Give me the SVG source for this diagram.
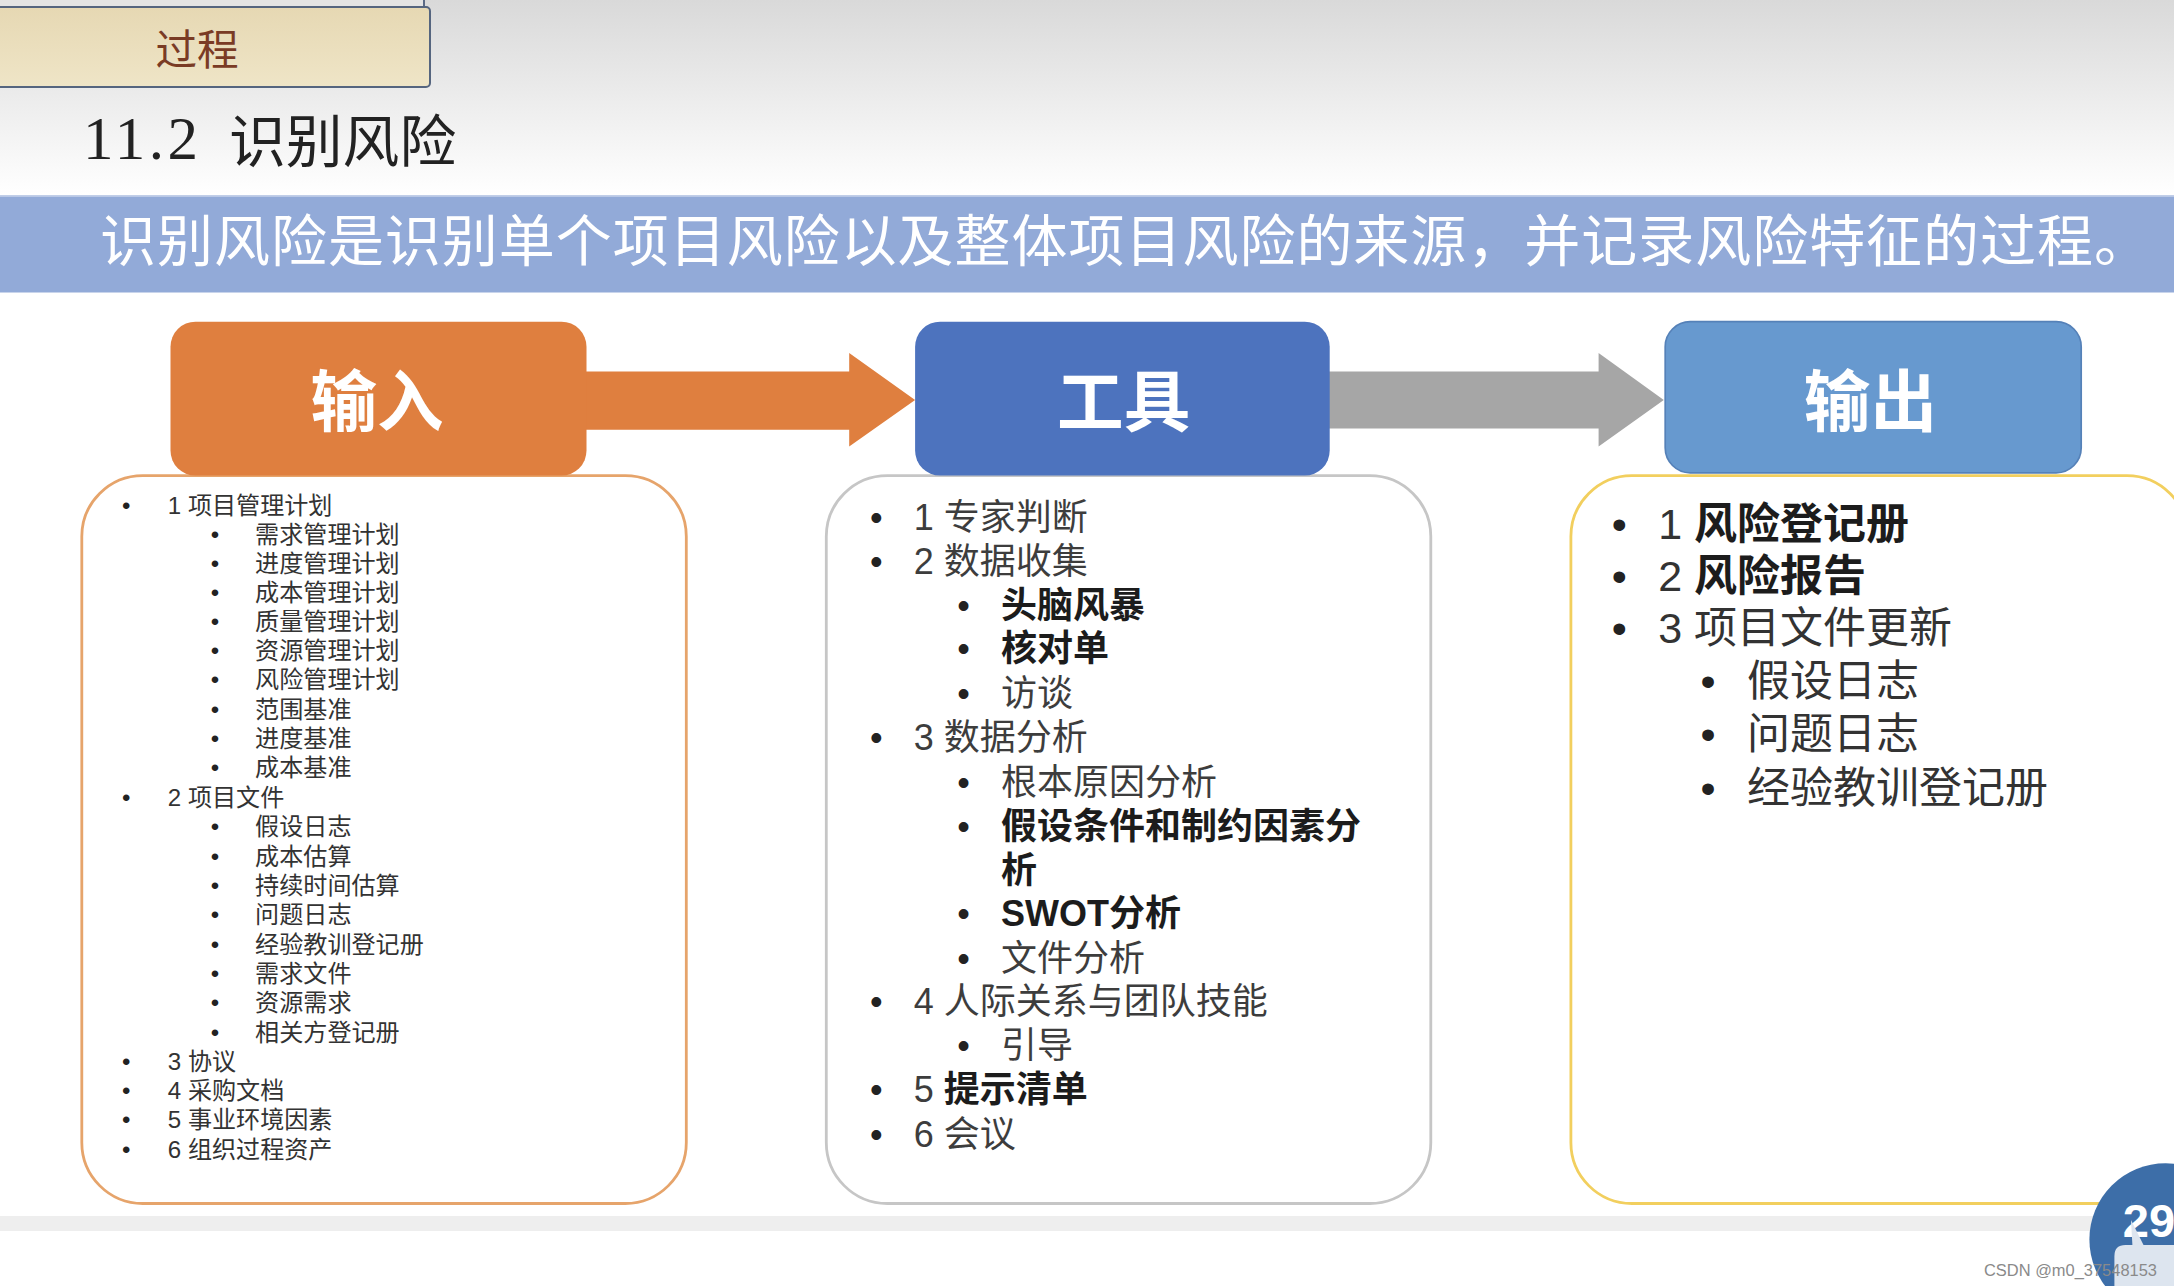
<svg xmlns="http://www.w3.org/2000/svg" width="2174" height="1286" viewBox="0 0 2174 1286">
<defs>
  <linearGradient id="bg" x1="0" y1="0" x2="0" y2="1">
    <stop offset="0" stop-color="#d9d9d9"/>
    <stop offset="1" stop-color="#ffffff"/>
  </linearGradient>
  <linearGradient id="tab" x1="0" y1="0" x2="0" y2="1">
    <stop offset="0" stop-color="#e6d8b3"/>
    <stop offset="1" stop-color="#efe5c7"/>
  </linearGradient>
  <style>
    .sans { font-family: "Liberation Sans", "Noto Sans CJK SC", sans-serif; }
    .serif { font-family: "Liberation Serif", "Noto Sans CJK SC", serif; }
    .hdr { font-family: "Liberation Sans", "Noto Sans CJK SC", sans-serif; font-size: 66.6px; font-weight: bold; fill: #ffffff; text-anchor: middle; }
    .li { font-family: "Liberation Sans", "Noto Sans CJK SC", sans-serif; font-size: 24.1px; fill: #333333; }
    .mi { font-family: "Liberation Sans", "Noto Sans CJK SC", sans-serif; font-size: 36px; fill: #3d3d3d; }
    .ri { font-family: "Liberation Sans", "Noto Sans CJK SC", sans-serif; font-size: 43px; fill: #333333; }
    .b { font-weight: bold; fill: #1c1c1c; }
    .bul { text-anchor: middle; fill: #222222; }
  </style>
</defs>

<!-- background -->
<rect x="0" y="0" width="2174" height="195" fill="url(#bg)"/>
<rect x="0" y="194" width="2174" height="1092" fill="#ffffff"/>
<rect x="0" y="1216" width="2174" height="15" fill="#eeeeee"/>

<!-- process tab -->
<g id="tab-process">
  <rect x="-14" y="-17" width="438" height="24" fill="#e4e4e4" stroke="#5b6a86" stroke-width="2"/>
  <rect x="-14" y="7" width="444" height="80" rx="4" fill="url(#tab)" stroke="#55657f" stroke-width="2"/>
  <text x="197" y="64.5" class="sans" font-size="41.6" fill="#7a3b25" text-anchor="middle">过程</text>
</g>

<!-- title -->
<g id="title">
  <text x="83" y="159.4" class="serif" font-size="61" fill="#222222" letter-spacing="3.5">11.2</text>
  <text x="229" y="162.2" class="serif" font-size="56.8" fill="#222222">识别风险</text>
</g>

<!-- definition band -->
<g id="definition">
  <rect x="0" y="195.5" width="2174" height="97" fill="#92aad8"/>
  <line x1="0" y1="196.2" x2="2174" y2="196.2" stroke="#b9c8e6" stroke-width="1.4"/>
  <text x="100" y="260.5" class="sans" font-size="56" fill="#ffffff" textLength="2050" lengthAdjust="spacing">识别风险是识别单个项目风险以及整体项目风险的来源，并记录风险特征的过程。</text>
</g>

<!-- connectors -->
<g id="connectors">
  <path d="M 582.3 371.6 L 849.2 371.6 L 849.2 352.9 L 915.1 400 L 849.2 446.4 L 849.2 429.8 L 582.3 429.8 Z" fill="#df7f3f"/>
  <path d="M 1326.9 371.6 L 1598.6 371.6 L 1598.6 352.9 L 1663.8 400 L 1598.6 446.4 L 1598.6 428.4 L 1326.9 428.4 Z" fill="#a6a6a6"/>
</g>

<!-- input column -->
<g id="input-list">
  <rect x="81.8" y="475.6" width="604.5" height="727.9" rx="61" ry="61" fill="#ffffff" stroke="#e6a46b" stroke-width="2.8"/>
  <g class="li">
    <text x="126.2" y="513.7" class="bul">•</text><text x="167.8" y="513.7">1 项目管理计划</text>
    <text x="214.9" y="542.8" class="bul">•</text><text x="255.1" y="542.8">需求管理计划</text>
    <text x="214.9" y="571.9" class="bul">•</text><text x="255.1" y="571.9">进度管理计划</text>
    <text x="214.9" y="601.0" class="bul">•</text><text x="255.1" y="601.0">成本管理计划</text>
    <text x="214.9" y="630.2" class="bul">•</text><text x="255.1" y="630.2">质量管理计划</text>
    <text x="214.9" y="659.3" class="bul">•</text><text x="255.1" y="659.3">资源管理计划</text>
    <text x="214.9" y="688.4" class="bul">•</text><text x="255.1" y="688.4">风险管理计划</text>
    <text x="214.9" y="717.5" class="bul">•</text><text x="255.1" y="717.5">范围基准</text>
    <text x="214.9" y="746.6" class="bul">•</text><text x="255.1" y="746.6">进度基准</text>
    <text x="214.9" y="775.7" class="bul">•</text><text x="255.1" y="775.7">成本基准</text>
    <text x="126.2" y="806.2" class="bul">•</text><text x="167.8" y="806.2">2 项目文件</text>
    <text x="214.9" y="835.4" class="bul">•</text><text x="255.1" y="835.4">假设日志</text>
    <text x="214.9" y="864.5" class="bul">•</text><text x="255.1" y="864.5">成本估算</text>
    <text x="214.9" y="893.6" class="bul">•</text><text x="255.1" y="893.6">持续时间估算</text>
    <text x="214.9" y="922.7" class="bul">•</text><text x="255.1" y="922.7">问题日志</text>
    <text x="214.9" y="953.2" class="bul">•</text><text x="255.1" y="953.2">经验教训登记册</text>
    <text x="214.9" y="982.3" class="bul">•</text><text x="255.1" y="982.3">需求文件</text>
    <text x="214.9" y="1011.4" class="bul">•</text><text x="255.1" y="1011.4">资源需求</text>
    <text x="214.9" y="1040.6" class="bul">•</text><text x="255.1" y="1040.6">相关方登记册</text>
    <text x="126.2" y="1069.7" class="bul">•</text><text x="167.8" y="1069.7">3 协议</text>
    <text x="126.2" y="1098.8" class="bul">•</text><text x="167.8" y="1098.8">4 采购文档</text>
    <text x="126.2" y="1127.9" class="bul">•</text><text x="167.8" y="1127.9">5 事业环境因素</text>
    <text x="126.2" y="1158.4" class="bul">•</text><text x="167.8" y="1158.4">6 组织过程资产</text>
  </g>
</g>
<g id="input-header">
  <rect x="170.5" y="321.7" width="416" height="153.9" rx="25" ry="25" fill="#df7f3f"/>
  <text x="377.1" y="426.3" class="hdr">输入</text>
</g>

<!-- tools column -->
<g id="tools-list">
  <rect x="826.3" y="475.6" width="604.5" height="727.9" rx="61" ry="61" fill="#ffffff" stroke="#c6c6c6" stroke-width="2.8"/>
  <g class="mi">
    <text x="876.3" y="529.6" class="bul">•</text><text x="913.7" y="529.6">1 专家判断</text>
    <text x="876.3" y="574.0" class="bul">•</text><text x="913.7" y="574.0">2 数据收集</text>
    <text x="963.6" y="618.4" class="bul">•</text><text x="1001" y="618.4" class="b">头脑风暴</text>
    <text x="963.6" y="661.4" class="bul">•</text><text x="1001" y="661.4" class="b">核对单</text>
    <text x="963.6" y="705.7" class="bul">•</text><text x="1001" y="705.7">访谈</text>
    <text x="876.3" y="750.1" class="bul">•</text><text x="913.7" y="750.1">3 数据分析</text>
    <text x="963.6" y="794.5" class="bul">•</text><text x="1001" y="794.5">根本原因分析</text>
    <text x="963.6" y="838.8" class="bul">•</text><text x="1001" y="838.8" class="b">假设条件和制约因素分</text>
    <text x="1001" y="883.2" class="b">析</text>
    <text x="963.6" y="926.2" class="bul">•</text><text x="1001" y="926.2" class="b">SWOT分析</text>
    <text x="963.6" y="970.5" class="bul">•</text><text x="1001" y="970.5">文件分析</text>
    <text x="876.3" y="1013.5" class="bul">•</text><text x="913.7" y="1013.5">4 人际关系与团队技能</text>
    <text x="963.6" y="1057.9" class="bul">•</text><text x="1001" y="1057.9">引导</text>
    <text x="876.3" y="1102.3" class="bul">•</text><text x="913.7" y="1102.3">5 <tspan class="b">提示清单</tspan></text>
    <text x="876.3" y="1146.6" class="bul">•</text><text x="913.7" y="1146.6">6 会议</text>
  </g>
</g>
<g id="tools-header">
  <rect x="915.1" y="321.7" width="414.6" height="153.9" rx="25" ry="25" fill="#4d73be"/>
  <text x="1123.7" y="426.3" class="hdr">工具</text>
</g>

<!-- output column -->
<g id="output-list">
  <rect x="1570.9" y="475.6" width="617" height="727.9" rx="61" ry="61" fill="#ffffff" stroke="#f2cf5e" stroke-width="2.8"/>
  <g class="ri">
    <text x="1619.4" y="539.3" class="bul">•</text><text x="1658.2" y="539.3">1 <tspan class="b">风险登记册</tspan></text>
    <text x="1619.4" y="590.6" class="bul">•</text><text x="1658.2" y="590.6">2 <tspan class="b">风险报告</tspan></text>
    <text x="1619.4" y="643.3" class="bul">•</text><text x="1658.2" y="643.3">3 项目文件更新</text>
    <text x="1708.1" y="696.0" class="bul">•</text><text x="1747" y="696.0">假设日志</text>
    <text x="1708.1" y="748.7" class="bul">•</text><text x="1747" y="748.7">问题日志</text>
    <text x="1708.1" y="802.8" class="bul">•</text><text x="1747" y="802.8">经验教训登记册</text>
  </g>
</g>
<g id="output-header">
  <rect x="1665.2" y="321.7" width="416" height="151.1" rx="25" ry="25" fill="#6799cf" stroke="#5581b8" stroke-width="1.7"/>
  <text x="1870.4" y="426.3" class="hdr">输出</text>
</g>

<!-- page badge -->
<g id="page-badge">
  <circle cx="2165.7" cy="1239.5" r="76.3" fill="#3d6ea8"/>
  <text x="2122.7" y="1236.7" class="sans" font-size="47.1" font-weight="bold" fill="#ffffff">29</text>
  <path d="M 2131 1220.1 L 2143.5 1245.1 L 2174 1245.1 L 2174 1286 L 2114.4 1286 L 2114.4 1256.2 Q 2114.4 1245.1 2125.5 1245.1 L 2132.4 1245.1 Z" fill="#dde5ef"/>
</g>

<!-- watermark -->
<text x="1984" y="1275.6" class="sans" font-size="17.2" fill="#8a8a8a" textLength="173" lengthAdjust="spacingAndGlyphs">CSDN @m0_37548153</text>
</svg>
